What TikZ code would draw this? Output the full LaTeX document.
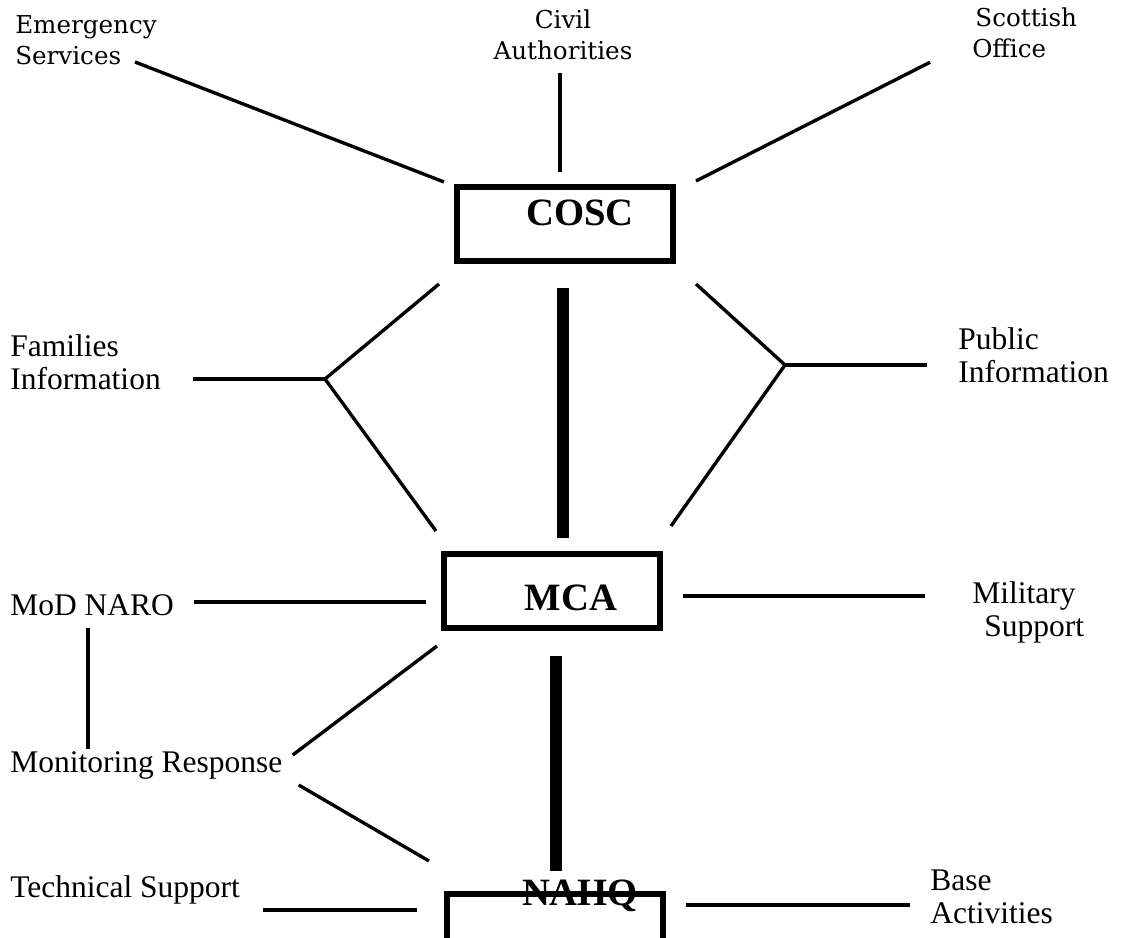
\documentclass[tikz,border=0pt]{standalone}
\usepackage{fontspec}
\setmainfont{Liberation Serif}
\newfontfamily\headface{DejaVu Serif}
\usepackage{tikz}
\usetikzlibrary{calc}

\begin{document}
\begin{tikzpicture}[x=0.025cm, y=-0.025cm,
  lbl/.style={inner sep=0pt, font=\fontsize{22.4}{23.5}\selectfont, align=left},
  toplbl/.style={lbl, font=\headface\fontsize{17.5}{22}\selectfont},
  unit/.style={draw, line width=4.3pt, inner sep=0pt, minimum width=5.4cm, minimum height=1.85cm},
  unitlbl/.style={inner sep=0pt, font=\fontsize{27.5}{29}\selectfont\bfseries},
  link/.style={line width=2.4pt},
  spine/.style={line width=8pt},
]
\useasboundingbox (0,0) rectangle (1122,938);
\clip (0,0) rectangle (1122,938);

\node[unit] (cosc) at (565,224) {};
\node[unit] (mca)  at (552,591) {};
\node[unit] (nahq) at (555,931) {};
\node[unitlbl] (cosctxt) at ($(cosc)+(15,-11)$) {COSC};
\node[unitlbl] (mcatxt)  at ($(mca)+(19,7)$)    {MCA};
\node[unitlbl] (nahqtxt) at ($(nahq)+(25,-35)$) {NAHQ};

\node[toplbl, anchor=west] (emerg) at (15,40) {Emergency\\Services};
\node[toplbl, align=center] (civil) at (563,35) {Civil\\Authorities};
\node[toplbl, anchor=west] (scot) at (972,33) {\hspace*{0.08cm}Scottish\\Office};
\node[lbl, anchor=west] (fam)  at (10,362)  {Families\\Information};
\node[lbl, anchor=west] (pub)  at (958,355) {Public\\Information};
\node[lbl, anchor=west] (naro) at (10,605)  {MoD NARO};
\node[lbl, anchor=west] (mon)  at (10,765)  {Monitoring Response};
\node[lbl, anchor=west] (tech) at (10,890)  {Technical Support};
\node[lbl, anchor=west] (mil)  at (972,612) {Military\\\hspace*{0.3cm}Support};
\node[lbl, anchor=west] (base) at (930,897) {Base\\Activities};

\coordinate (famjoin) at (325,379);
\coordinate (pubjoin) at (785,365);

\draw[link] ([shift={(-22,22)}]emerg.east) -- ([shift={(-10,-2)}]cosc.north west);
\draw[link] ([shift={(-3,13)}]civil.south) -- ([shift={(-5,-12)}]cosc.north);
\draw[link] ([shift={(-42,4)}]scot.south west) -- ([shift={(20,-3)}]cosc.north east);

\draw[link] ([shift={(32,17)}]fam.east) -- (famjoin);
\draw[link] ([shift={(-15,20)}]cosc.south west) -- (famjoin) -- ([shift={(-5,-20)}]mca.north west);
\draw[link] (pubjoin) -- ([shift={(-31,10)}]pub.west);
\draw[link] ([shift={(20,20)}]cosc.south east) -- (pubjoin) -- ([shift={(8,-25)}]mca.north east);

\draw[spine] ([shift={(-2,24)}]cosc.south) -- ([shift={(11,-13)}]mca.north);
\draw[spine] ([shift={(4,25)}]mca.south) -- ([shift={(1,-20)}]nahq.north);

\draw[link] ([shift={(20,-3)}]naro.east) -- ([shift={(-15,11)}]mca.west);
\draw[link] ([shift={(-4,12)}]naro.south) -- ([shift={(-4,-2)}]naro.south |- mon.north);
\draw[link] ([shift={(10,-10)}]mon.east) -- ([shift={(-4,15)}]mca.south west);
\draw[link] ([shift={(16,20)}]mon.east) -- ([shift={(-15,-30)}]nahq.north west);
\draw[link] ([shift={(23,20)}]tech.east) -- ([shift={(-27,-21)}]nahq.west);
\draw[link] ([shift={(20,5)}]mca.east) -- ([shift={(-47,-16)}]mil.west);
\draw[link] ([shift={(20,-26)}]nahq.east) -- ([shift={(-20,8)}]base.west);
\end{tikzpicture}
\end{document}
